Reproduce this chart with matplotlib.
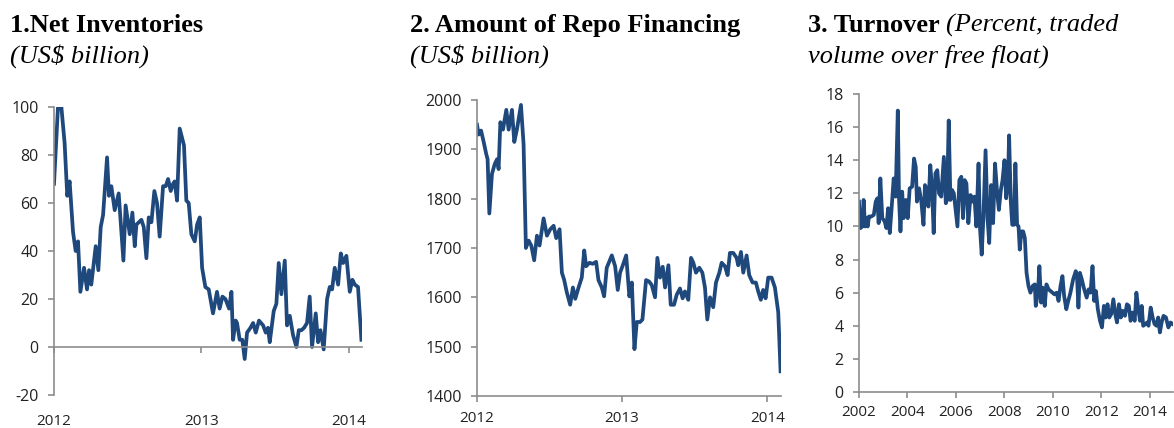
import matplotlib
matplotlib.use("Agg")
import matplotlib.pyplot as plt

# 1. net inventories, US$ billion (weekly, decimal years)
inv_x = [2012.000, 2012.027, 2012.050, 2012.072, 2012.090, 2012.106, 2012.129, 2012.147, 2012.163, 2012.179,
         2012.204, 2012.224, 2012.238, 2012.253, 2012.283, 2012.301, 2012.317, 2012.333, 2012.360, 2012.373,
         2012.389, 2012.412, 2012.439, 2012.471, 2012.486, 2012.514, 2012.532, 2012.548, 2012.559, 2012.593,
         2012.609, 2012.627, 2012.643, 2012.661, 2012.681, 2012.699, 2012.717, 2012.740, 2012.758, 2012.774,
         2012.792, 2012.808, 2012.819, 2012.835, 2012.853, 2012.882, 2012.898, 2012.914, 2012.932, 2012.955,
         2012.971, 2012.989, 2013.005, 2013.027, 2013.050, 2013.079, 2013.106, 2013.124, 2013.143, 2013.163,
         2013.188, 2013.204, 2013.215, 2013.233, 2013.242, 2013.260, 2013.278, 2013.294, 2013.310, 2013.333,
         2013.351, 2013.369, 2013.391, 2013.419, 2013.437, 2013.452, 2013.464, 2013.491, 2013.509, 2013.525,
         2013.543, 2013.566, 2013.581, 2013.600, 2013.622, 2013.645, 2013.661, 2013.679, 2013.697, 2013.717,
         2013.735, 2013.751, 2013.776, 2013.792, 2013.808, 2013.830, 2013.853, 2013.871, 2013.887, 2013.905,
         2013.928, 2013.946, 2013.962, 2013.984, 2014.007, 2014.025, 2014.041, 2014.063, 2014.086]
inv_y = [68, 100, 100, 85, 63, 69, 48, 40, 44, 23,
         33, 24, 32, 26, 42, 32, 50, 55, 79, 63,
         67, 57, 64, 36, 59, 47, 56, 42, 51, 53,
         50, 37, 54, 52, 65, 60, 46, 67, 67, 70,
         65, 68, 69, 61, 91, 84, 61, 60, 47, 44,
         51, 54, 33, 25, 24, 14, 23, 16, 21, 20,
         16, 23, 3, 11, 10, 3, 3, -5, 6, 8,
         10, 6, 11, 9, 6, 8, 2, 15, 18, 35,
         22, 36, 9, 13, 5, 0, 7, 7, 8, 10,
         21, 0, 14, 2, 7, -1, 20, 25, 24, 33,
         26, 39, 35, 38, 23, 28, 26, 25, 3]

# 2. repo financing, US$ billion
repo_x = [2012.000, 2012.011, 2012.028, 2012.046, 2012.064, 2012.073, 2012.085, 2012.103, 2012.122, 2012.138,
          2012.149, 2012.161, 2012.179, 2012.202, 2012.218, 2012.241, 2012.257, 2012.275, 2012.303, 2012.321,
          2012.337, 2012.356, 2012.374, 2012.394, 2012.413, 2012.431, 2012.459, 2012.482, 2012.505, 2012.528,
          2012.546, 2012.569, 2012.585, 2012.601, 2012.619, 2012.642, 2012.661, 2012.677, 2012.700, 2012.722,
          2012.739, 2012.752, 2012.775, 2012.798, 2012.821, 2012.837, 2012.860, 2012.876, 2012.894, 2012.911,
          2012.929, 2012.952, 2012.970, 2012.986, 2013.005, 2013.028, 2013.050, 2013.067, 2013.085, 2013.101,
          2013.124, 2013.140, 2013.165, 2013.186, 2013.204, 2013.227, 2013.243, 2013.261, 2013.280, 2013.296,
          2013.319, 2013.335, 2013.358, 2013.376, 2013.399, 2013.417, 2013.433, 2013.456, 2013.475, 2013.491,
          2013.509, 2013.532, 2013.553, 2013.571, 2013.587, 2013.606, 2013.628, 2013.647, 2013.670, 2013.686,
          2013.709, 2013.727, 2013.743, 2013.766, 2013.789, 2013.800, 2013.819, 2013.835, 2013.858, 2013.876,
          2013.899, 2013.922, 2013.938, 2013.956, 2013.972, 2013.989, 2014.007, 2014.030, 2014.053, 2014.076,
          2014.092]
repo_y = [1950, 1930, 1938, 1915, 1890, 1880, 1770, 1850, 1870, 1880,
          1860, 1955, 1940, 1980, 1940, 1980, 1915, 1940, 1990, 1910,
          1700, 1715, 1705, 1675, 1725, 1705, 1760, 1725, 1738, 1745,
          1720, 1738, 1650, 1635, 1610, 1585, 1620, 1597, 1620, 1640,
          1695, 1663, 1670, 1668, 1672, 1635, 1620, 1602, 1660, 1672,
          1685, 1663, 1615, 1650, 1665, 1685, 1602, 1630, 1495, 1550,
          1550, 1555, 1635, 1632, 1625, 1600, 1680, 1640, 1662, 1620,
          1665, 1585, 1585, 1605, 1618, 1598, 1612, 1595, 1680, 1670,
          1650, 1660, 1650, 1620, 1555, 1600, 1580, 1630, 1650, 1670,
          1663, 1645, 1690, 1690, 1680, 1665, 1692, 1650, 1685, 1645,
          1630, 1630, 1612, 1595, 1615, 1598, 1640, 1640, 1620, 1570,
          1450]

# 3. turnover, percent
turn_x = [2002.00, 2002.06, 2002.14, 2002.19, 2002.25, 2002.30, 2002.36, 2002.41, 2002.51, 2002.61,
          2002.69, 2002.76, 2002.81, 2002.88, 2002.96, 2003.06, 2003.13, 2003.20, 2003.27, 2003.35,
          2003.43, 2003.51, 2003.60, 2003.65, 2003.71, 2003.78, 2003.84, 2003.93, 2004.01, 2004.09,
          2004.19, 2004.27, 2004.34, 2004.39, 2004.48, 2004.57, 2004.66, 2004.72, 2004.81, 2004.86,
          2004.94, 2005.01, 2005.08, 2005.15, 2005.23, 2005.30, 2005.39, 2005.50, 2005.58, 2005.63,
          2005.70, 2005.77, 2005.84, 2005.91, 2005.99, 2006.06, 2006.14, 2006.22, 2006.29, 2006.36,
          2006.43, 2006.51, 2006.60, 2006.68, 2006.76, 2006.84, 2006.93, 2006.99, 2007.06, 2007.13,
          2007.22, 2007.30, 2007.37, 2007.45, 2007.53, 2007.61, 2007.70, 2007.77, 2007.85, 2007.92,
          2008.00, 2008.07, 2008.14, 2008.19, 2008.26, 2008.32, 2008.39, 2008.45, 2008.52, 2008.58,
          2008.63, 2008.70, 2008.77, 2008.84, 2008.91, 2008.99, 2009.07, 2009.16, 2009.25, 2009.29,
          2009.38, 2009.44, 2009.51, 2009.58, 2009.66, 2009.73, 2009.82, 2009.90, 2009.98, 2010.06,
          2010.15, 2010.23, 2010.31, 2010.39, 2010.46, 2010.55, 2010.63, 2010.72, 2010.83, 2010.94,
          2010.99, 2011.05, 2011.11, 2011.19, 2011.27, 2011.39, 2011.47, 2011.55, 2011.63, 2011.70,
          2011.77, 2011.85, 2011.94, 2012.02, 2012.10, 2012.17, 2012.25, 2012.32, 2012.40, 2012.49,
          2012.57, 2012.64, 2012.72, 2012.80, 2012.88, 2012.97, 2013.05, 2013.13, 2013.20, 2013.28,
          2013.37, 2013.44, 2013.52, 2013.59, 2013.66, 2013.72, 2013.81, 2013.88, 2013.94, 2014.03,
          2014.11, 2014.19, 2014.27, 2014.34, 2014.41, 2014.48, 2014.56, 2014.66, 2014.76, 2014.85,
          2014.94]
turn_y = [11.5, 9.9, 10.0, 11.6, 10.0, 10.5, 10.0, 10.6, 10.6, 10.7,
          11.5, 11.7, 10.2, 12.9, 10.5, 10.3, 9.9, 11.1, 9.6, 11.2,
          12.9, 11.8, 17.0, 11.7, 9.7, 12.1, 10.5, 11.6, 10.5, 12.3,
          12.4, 14.1, 13.6, 11.5, 12.3, 11.5, 10.1, 12.5, 12.2, 11.2,
          13.7, 12.3, 9.6, 13.2, 13.4, 12.0, 11.8, 14.2, 11.4, 11.6,
          16.4, 11.6, 12.2, 12.0, 10.9, 10.0, 12.8, 13.0, 10.5, 12.8,
          12.6, 10.2, 11.9, 11.5, 11.8, 10.0, 13.8, 9.9, 8.3, 10.5,
          14.6, 10.5, 9.0, 12.5, 10.2, 13.8, 12.0, 11.0, 12.2, 12.8,
          14.0, 11.7, 12.5, 15.5, 11.5, 10.1, 10.1, 13.8, 10.1, 10.0,
          8.6, 9.7, 9.7, 9.3, 7.2, 6.4, 6.0, 6.4, 6.5, 5.2,
          6.0, 7.6, 5.4, 6.3, 5.2, 6.5, 6.2, 6.1, 6.0, 5.9,
          6.0, 5.5, 6.4, 7.0, 5.8, 5.0, 5.5, 6.0, 6.8, 7.3,
          7.0, 5.1, 7.2, 6.8, 6.3, 5.7, 6.2, 6.0, 7.6, 5.5,
          6.1, 5.0, 4.3, 3.9, 5.2, 4.5, 5.3, 4.5, 4.7, 5.6,
          4.7, 4.2, 5.3, 4.5, 4.9, 4.6, 5.3, 5.2, 4.3, 4.8,
          4.3, 6.0, 5.0, 4.3, 5.2, 4.0, 4.1, 4.2, 4.0, 5.1,
          4.5, 4.1, 4.0, 4.5, 3.6, 4.2, 4.6, 4.5, 3.9, 4.2,
          4.1]

inv_yticks = [-20, 0, 20, 40, 60, 80, 100]
repo_yticks = [1400, 1500, 1600, 1700, 1800, 1900, 2000]
turn_yticks = [0, 2, 4, 6, 8, 10, 12, 14, 16, 18]
short_xticks = [2012, 2013, 2014]
long_xticks = [2002, 2004, 2006, 2008, 2010, 2012, 2014]

W, H = 1174, 428
LINE = "#1F497D"
GREY = "#8C8C8C"
plt.rcParams["font.family"] = ["Open Sans", "DejaVu Sans"]
plt.rcParams["axes.unicode_minus"] = False

fig = plt.figure(figsize=(W / 100, H / 100), dpi=100)


def make_ax(l, r, t, b):
    return fig.add_axes([l / W, 1 - b / H, (r - l) / W, (b - t) / H])


def style(ax, yticks, xticks, xpad):
    for s in ["top", "right"]:
        ax.spines[s].set_visible(False)
    for s in ["left", "bottom"]:
        ax.spines[s].set_color(GREY)
        ax.spines[s].set_linewidth(1.2)
    ax.set_yticks(yticks)
    ax.set_xticks(xticks)
    ax.set_xticklabels([str(v) for v in xticks])
    ax.tick_params(axis="y", length=4, width=1.2, color=GREY, labelsize=11.5, pad=7, labelcolor="#222222")
    ax.tick_params(axis="x", length=4, width=1.2, color=GREY, labelsize=11, pad=xpad, labelcolor="#222222")


ax1 = make_ax(54, 362, 107, 395)
ax1.plot(inv_x, inv_y, color=LINE, lw=2.7)
ax1.set_xlim(2012, 2014.09)
ax1.set_ylim(-20, 100)
ax1.spines["bottom"].set_position(("data", 0))
style(ax1, inv_yticks, short_xticks, 44)

ax2 = make_ax(477, 781, 100, 396)
ax2.plot(repo_x, repo_y, color=LINE, lw=2.7)
ax2.set_xlim(2012, 2014.095)
ax2.set_ylim(1400, 2000)
style(ax2, repo_yticks, short_xticks, 7)

ax3 = make_ax(859, 1173, 94, 392)
ax3.plot(turn_x, turn_y, color=LINE, lw=2.7)
ax3.set_xlim(2002, 2014.95)
ax3.set_ylim(0, 18)
style(ax3, turn_yticks, long_xticks, 5)

serif = "Liberation Serif"
fs = 19
fig.text(10 / W, 1 - 32 / H, "1.Net Inventories", family=serif, weight="bold", size=fs, va="baseline")
fig.text(10 / W, 1 - 63 / H, "(US$ billion)", family=serif, style="italic", size=fs, va="baseline")
fig.text(410 / W, 1 - 32 / H, "2. Amount of Repo Financing", family=serif, weight="bold", size=fs, va="baseline")
fig.text(410 / W, 1 - 63 / H, "(US$ billion)", family=serif, style="italic", size=fs, va="baseline")
t3 = fig.text(808 / W, 1 - 32 / H, "3. Turnover ", family=serif, weight="bold", size=fs, va="baseline")
fig.canvas.draw()
ext = t3.get_window_extent()
fig.text(ext.x1 / W, 1 - 32 / H, "(Percent, traded", family=serif, style="italic", size=fs, va="baseline")
fig.text(808 / W, 1 - 63 / H, "volume over free float)", family=serif, style="italic", size=fs, va="baseline")

fig.savefig("out.png", dpi=100)
